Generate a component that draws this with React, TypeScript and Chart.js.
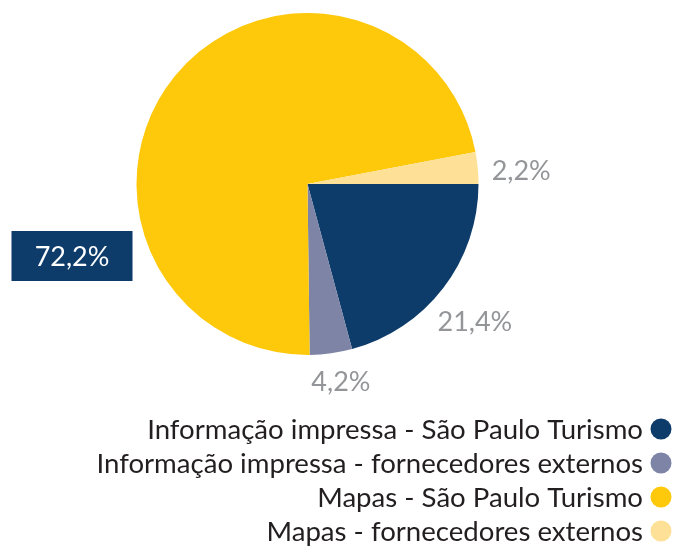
import React, { useEffect, useRef } from "react";
import { Chart, registerables } from "chart.js";

Chart.register(...registerables);

const categories = [
  "Informação impressa - São Paulo Turismo",
  "Informação impressa - fornecedores externos",
  "Mapas - São Paulo Turismo",
  "Mapas - fornecedores externos",
];
// slice shares as drawn in the picture
const values = [20.8, 4.0, 72.2, 3.0];
// printed labels
const valueLabels = ["21,4%", "4,2%", "72,2%", "2,2%"];
const colors = ["#0d3c6a", "#7d84a6", "#fec80b", "#fee096"];

const FONT = "Lato, 'Open Sans', sans-serif";
// small nudges of the outside labels (layout only)
const labelNudge = [
  [-7, 4],
  [6, 0],
  [0, 0],
  [2, 6],
];

const labelsPlugin = {
  id: "customLabels",
  afterDraw(chart: any) {
    const ctx = chart.ctx as CanvasRenderingContext2D;
    const meta = chart.getDatasetMeta(0);
    ctx.save();
    ctx.font = `27px ${FONT}`;
    ctx.textBaseline = "middle";
    meta.data.forEach((arc: any, i: number) => {
      const { x, y, startAngle, endAngle, outerRadius } = arc.getProps(
        ["x", "y", "startAngle", "endAngle", "outerRadius"],
        true
      );
      const text = valueLabels[i];
      if (i === 2) {
        const w = 121;
        const h = 50;
        const right = x - outerRadius - 4;
        const cy = y + 72;
        ctx.fillStyle = "#0d3c6a";
        ctx.fillRect(right - w, cy - h / 2, w, h);
        ctx.fillStyle = "#ffffff";
        ctx.textAlign = "center";
        ctx.fillText(text, right - w / 2, cy + 1);
        return;
      }
      const mid = (startAngle + endAngle) / 2;
      const dx = Math.cos(mid);
      const dy = Math.sin(mid);
      const tw = ctx.measureText(text).width;
      const proj = (tw / 2) * Math.abs(dx) + 13 * Math.abs(dy);
      const d = outerRadius + 11 + proj;
      ctx.fillStyle = "#939598";
      ctx.textAlign = "center";
      ctx.fillText(text, x + dx * d + labelNudge[i][0], y + dy * d + 1 + labelNudge[i][1]);
    });

    const rowYs = [429, 463, 497, 531];
    ctx.font = `27.6px ${FONT}`;
    ctx.textAlign = "right";
    categories.forEach((c, i) => {
      ctx.fillStyle = "#231f20";
      ctx.fillText(c, 643, rowYs[i] + 1);
      ctx.beginPath();
      ctx.arc(661, rowYs[i], 10.5, 0, Math.PI * 2);
      ctx.fillStyle = colors[i];
      ctx.fill();
    });
    ctx.restore();
  },
};

export default function App() {
  const ref = useRef<HTMLCanvasElement>(null);
  useEffect(() => {
    if (!ref.current) return;
    const chart = new Chart(ref.current, {
      type: "pie",
      data: {
        labels: categories,
        datasets: [
          {
            data: values,
            backgroundColor: colors,
            borderWidth: 0,
          },
        ],
      },
      options: {
        animation: false,
        responsive: false,
        rotation: 90,
        layout: { padding: { left: 136, right: 197, top: 13, bottom: 192 } },
        plugins: {
          legend: { display: false },
          tooltip: { enabled: false },
        },
      },
      plugins: [labelsPlugin],
    });
    return () => chart.destroy();
  }, []);
  return (
    <div style={{ position: "absolute", left: 0, top: 0, width: 676, height: 547, background: "#fff" }}>
      <canvas ref={ref} width={676} height={547} style={{ display: "block" }} />
    </div>
  );
}
